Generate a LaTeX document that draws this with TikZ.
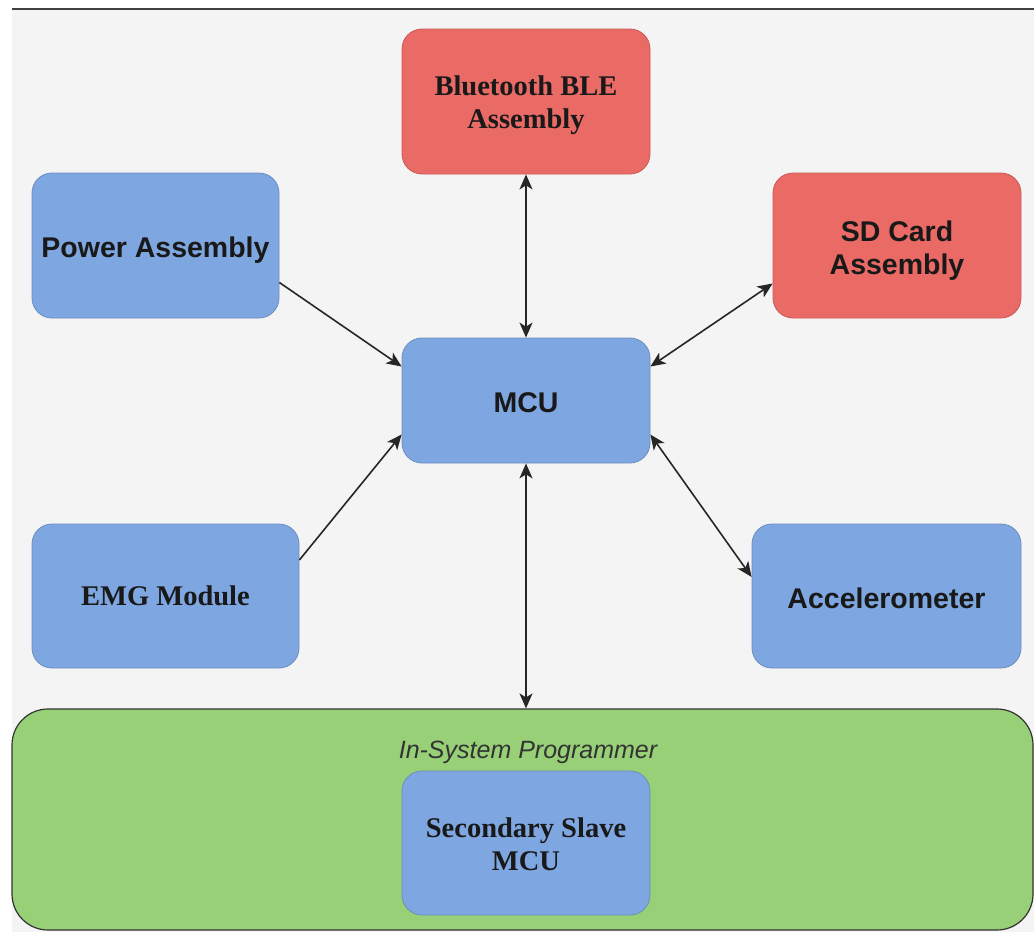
\documentclass[tikz,border=0pt]{standalone}
\usepackage{fontspec}
\setmainfont{Liberation Serif}
\setsansfont{Liberation Sans}
\usetikzlibrary{arrows.meta}
\definecolor{pagebg}{HTML}{F4F4F4}
\definecolor{bluefill}{HTML}{7EA6E0}
\definecolor{blueline}{HTML}{6C8EBF}
\definecolor{redfill}{HTML}{EA6B66}
\definecolor{redline}{HTML}{C85A55}
\definecolor{greenfill}{HTML}{97D077}
\definecolor{captiongray}{HTML}{333333}
\tikzset{
  block/.style={rounded corners=20pt, minimum width=248pt, minimum height=145pt,
    inner sep=0pt, line width=0.8pt},
  bluebox/.style={block, fill=bluefill, draw=blueline},
  redbox/.style={block, fill=redfill, draw=redline},
  sanslabel/.style={align=center, text=black!90, inner sep=0pt,
    font=\sffamily\bfseries\fontsize{28.5}{33}\selectfont},
  seriflabel/.style={align=center, text=black!90, inner sep=0pt,
    font=\rmfamily\bfseries\fontsize{28.5}{33}\selectfont},
  link/.style={line width=1.6pt, draw=black!85, -{Stealth[length=15pt,width=13pt,inset=4pt]}},
  biglink/.style={link, {Stealth[length=15pt,width=13pt,inset=4pt]}-{Stealth[length=15pt,width=13pt,inset=4pt]}}
}
\begin{document}
\begin{tikzpicture}[x=1pt, y=-1pt]
  \useasboundingbox (0,0) rectangle (1034,932);
  % page background and top rule
  \fill[pagebg] (12,9) rectangle (1034,932);
  \draw[line width=2pt, black!75] (12,9) -- (1034,9);

  % programmer container
  \node[rounded corners=36pt, fill=greenfill, draw=black!80, line width=1.2pt,
        minimum width=1021pt, minimum height=221pt, inner sep=0pt]
        (isp) at (522.5,819.5) {};
  \node[font=\sffamily\itshape\fontsize{25}{30}\selectfont, text=captiongray]
        (isplabel) at (528,752) {In-System Programmer};

  % blocks, each with its caption centred inside
  \node[redbox, label={[seriflabel, yshift=-3.5pt]center:{Bluetooth BLE\\Assembly}}]
        (ble) at (526,101.5) {};
  \node[bluebox, minimum width=247pt, label={[sanslabel, yshift=-4.5pt]center:Power Assembly}]
        (pow) at (155.5,245.5) {};
  \node[redbox, label={[sanslabel, yshift=-5pt]center:{SD Card\\Assembly}}]
        (sd) at (897,245.5) {};
  \node[bluebox, minimum height=125pt, label={[sanslabel, yshift=-2pt]center:MCU}]
        (mcu) at (526,400.5) {};
  \node[bluebox, minimum width=267pt, minimum height=144pt, label={[seriflabel]center:EMG Module}]
        (emg) at (165.5,596) {};
  \node[bluebox, minimum width=269pt, minimum height=144pt, label={[sanslabel, yshift=-2pt]center:Accelerometer}]
        (acc) at (886.5,596) {};
  \node[bluebox, minimum height=144pt, label={[seriflabel, yshift=-1pt]center:{Secondary Slave\\MCU}}]
        (slave) at (526,843) {};

  % connectors
  \draw[biglink] (ble.south) -- (mcu.north);
  \draw[link] ([yshift=-37pt]pow.east) -- ([yshift=34pt]mcu.west);
  \draw[biglink] ([yshift=-38pt]sd.west) -- ([yshift=34pt]mcu.east);
  \draw[link] ([yshift=36pt]emg.east) -- ([yshift=-34pt]mcu.west);
  \draw[biglink] ([yshift=19pt]acc.west) -- ([yshift=-34pt]mcu.east);
  \draw[biglink] (mcu.south) -- (mcu.south |- isp.north);
\end{tikzpicture}
\end{document}
